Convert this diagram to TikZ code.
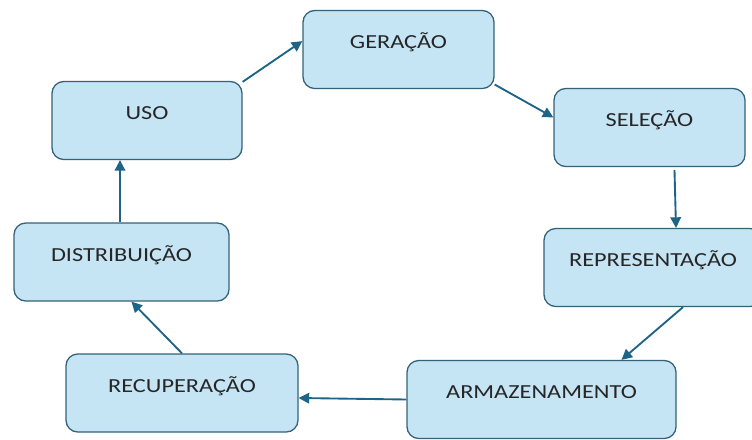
\documentclass[tikz,border=0pt]{standalone}
\usepackage{fontspec}
\setmainfont{Carlito}[FakeStretch=1.22]
\usepackage{tikz}
\usetikzlibrary{arrows.meta,calc}

\definecolor{boxfill}{RGB}{197,228,244}
\definecolor{boxline}{RGB}{52,98,122}
\definecolor{flow}{RGB}{30,100,135}

\tikzset{
    stage/.style={draw=boxline, fill=boxfill, line width=1.1pt,
        rounded corners=10pt, minimum height=78*0.03cm,
        text height=12pt, text depth=13pt, text=black!85,
        font=\fontsize{17}{20}\selectfont},
    flowarrow/.style={->, draw=flow, line width=1.6pt}
}

\begin{document}
\begin{tikzpicture}[x=0.03cm, y=-0.03cm,
        >={Triangle[length=9pt,width=9pt]}]

        \useasboundingbox (0,0) rectangle (752,439);

        % The seven stages of the cycle.
        \node[stage, minimum width=191*0.03cm] (geracao) at (398.5, 49.5) {GERAÇÃO};
        \node[stage, minimum width=191*0.03cm] (selecao) at (649.5,127.5) {SELEÇÃO};
        \node[stage, minimum width=218*0.03cm] (repres)  at (653,  267.5) {REPRESENTAÇÃO};
        \node[stage, minimum width=269*0.03cm] (armaz)   at (541.5,399.5) {ARMAZENAMENTO};
        \node[stage, minimum width=232*0.03cm] (recup)   at (182,  393)   {RECUPERAÇÃO};
        \node[stage, minimum width=215*0.03cm] (distrib) at (121.5,262)   {DISTRIBUIÇÃO};
        \node[stage, minimum width=190*0.03cm] (uso)     at (147,  120.5) {USO};

        % Arrows going round the cycle.
        \draw[flowarrow] (uso.22) to (geracao.175);
        \draw[flowarrow] (geracao.-20) to (selecao.174);
        \draw[flowarrow] ($(selecao.south)+(25,3)$) to ($(repres.north)+(23,0)$);
        \draw[flowarrow] ($(repres.south)+(30,0)$) to ($(armaz.north)+(80,0)$);
        \draw[flowarrow] (armaz.west) to ($(recup.east)+(0,5)$);
        \draw[flowarrow] (recup.north) to ($(distrib.south)+(10,0)$);
        \draw[flowarrow] ($(distrib.north)+(-1.5,0)$) to ($(uso.south -| distrib.north)+(-1.5,0)$);
    \end{tikzpicture}
\end{document}
